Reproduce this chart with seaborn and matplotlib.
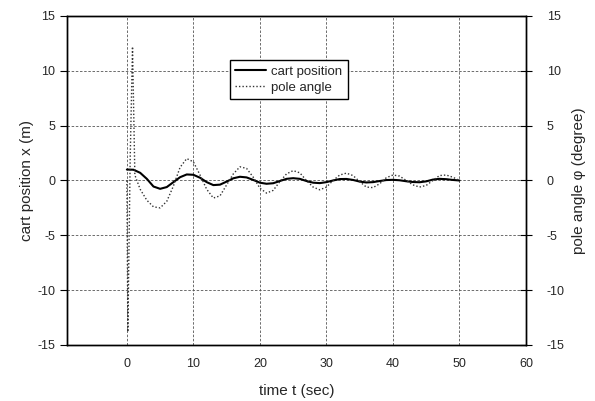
import matplotlib

matplotlib.use("Agg")
import matplotlib.pyplot as plt
import numpy as np
import pandas as pd
import seaborn as sns

# time axis (sec) and traces
time_s = [0, 1, 2, 3, 4, 5, 6, 7, 8, 9, 10, 11, 12, 13, 14, 15, 16, 17, 18, 19, 20,
          21, 22, 23, 24, 25, 26, 27, 28, 29, 30, 31, 32, 33, 34, 35, 36, 37, 38, 39, 40,
          41, 42, 43, 44, 45, 46, 47, 48, 49, 50]
cart_pos = [1.0, 0.98, 0.7, 0.15, -0.55, -0.76, -0.6, -0.15, 0.3, 0.55, 0.52,
            0.25, -0.15, -0.42, -0.38, -0.1, 0.2, 0.34, 0.28, 0.05, -0.2,
            -0.3, -0.25, -0.05, 0.15, 0.21, 0.15, -0.05, -0.2, -0.24, -0.15,
            0.0, 0.13, 0.14, 0.05, -0.1, -0.18, -0.15, -0.05, 0.04, 0.06,
            0.02, -0.07, -0.14, -0.16, -0.08, 0.08, 0.15, 0.12, 0.05, 0.0]

pole_t = [0, 0.15, 0.5, 0.85, 1.2, 2, 3, 4, 5, 6, 7, 8, 9, 10, 11, 12, 13, 14, 15,
          16, 17, 18, 19, 20, 21, 22, 23, 24, 25, 26, 27, 28, 29, 30, 31, 32, 33,
          34, 35, 36, 37, 38, 39, 40, 41, 42, 43, 44, 45, 46, 47, 48, 49, 50]
pole_angle = [0.0, -13.8, 2.0, 12.2, 0.5, -0.8, -1.8, -2.4, -2.5, -1.9, -0.5, 1.2,
              2.0, 1.7, 0.5, -0.8, -1.6, -1.4, -0.4, 0.6, 1.25, 1.1, 0.3, -0.7,
              -1.15, -0.9, -0.1, 0.6, 0.9, 0.7, 0.0, -0.6, -0.85, -0.6, 0.0, 0.5,
              0.67, 0.45, -0.1, -0.6, -0.65, -0.3, 0.25, 0.5, 0.4, 0.0, -0.4, -0.6,
              -0.45, 0.0, 0.45, 0.5, 0.3, 0.0]

x_ticks = [0, 10, 20, 30, 40, 50, 60]
y_ticks = [-15, -10, -5, 0, 5, 10, 15]

sns.set_theme(style="white")
plt.rcParams["font.family"] = ["Liberation Sans", "DejaVu Sans"]
plt.rcParams["axes.unicode_minus"] = False

cart_df = pd.DataFrame({"t": time_s, "x": cart_pos})
pole_df = pd.DataFrame({"t": pole_t, "phi": pole_angle})

fig = plt.figure(figsize=(5.95, 4.01), dpi=100)
ax = fig.add_axes([0.1126, 0.1397, 0.7714, 0.8204])
ax2 = ax.twinx()

sns.lineplot(data=cart_df, x="t", y="x", ax=ax, color="black", linewidth=1.5,
             label="cart position", legend=False)
sns.lineplot(data=pole_df, x="t", y="phi", ax=ax2, color="#333333", linewidth=1.0,
             linestyle=(0, (1, 1.5)), label="pole angle", legend=False)

for a in (ax, ax2):
    a.set_xlim(-9, 60)
    a.set_ylim(-15, 15)
    a.set_yticks(y_ticks)
    for sp in a.spines.values():
        sp.set_color("black")
        sp.set_linewidth(1.0)

ax.set_xticks(x_ticks)
ax.grid(True, color="#555555", linestyle=(0, (3, 2)), linewidth=0.6)
ax.tick_params(axis="y", direction="out", length=5, width=0.8, labelsize=9, color="black")
ax.tick_params(axis="x", direction="inout", length=7, width=0.8, labelsize=9, color="black", pad=6)
ax2.tick_params(axis="y", direction="inout", length=8, width=0.8, labelsize=9, color="black", pad=11)

ax.set_xlabel("time t (sec)", fontsize=11, labelpad=10)
ax.set_ylabel("cart position x (m)", fontsize=11, labelpad=2)
ax2.set_ylabel("pole angle φ (degree)", fontsize=11, labelpad=5)

h1, l1 = ax.get_legend_handles_labels()
h2, l2 = ax2.get_legend_handles_labels()
leg = ax2.legend(h1 + h2, l1 + l2, loc="upper left", bbox_to_anchor=(0.355, 0.866),
                 fontsize=9.5, frameon=True, fancybox=False, framealpha=1,
                 edgecolor="black", borderpad=0.4, labelspacing=0.3,
                 handlelength=2.3, handletextpad=0.45, borderaxespad=0)
leg.get_frame().set_linewidth(1.0)

fig.savefig("out.png", dpi=100)
plt.close(fig)
